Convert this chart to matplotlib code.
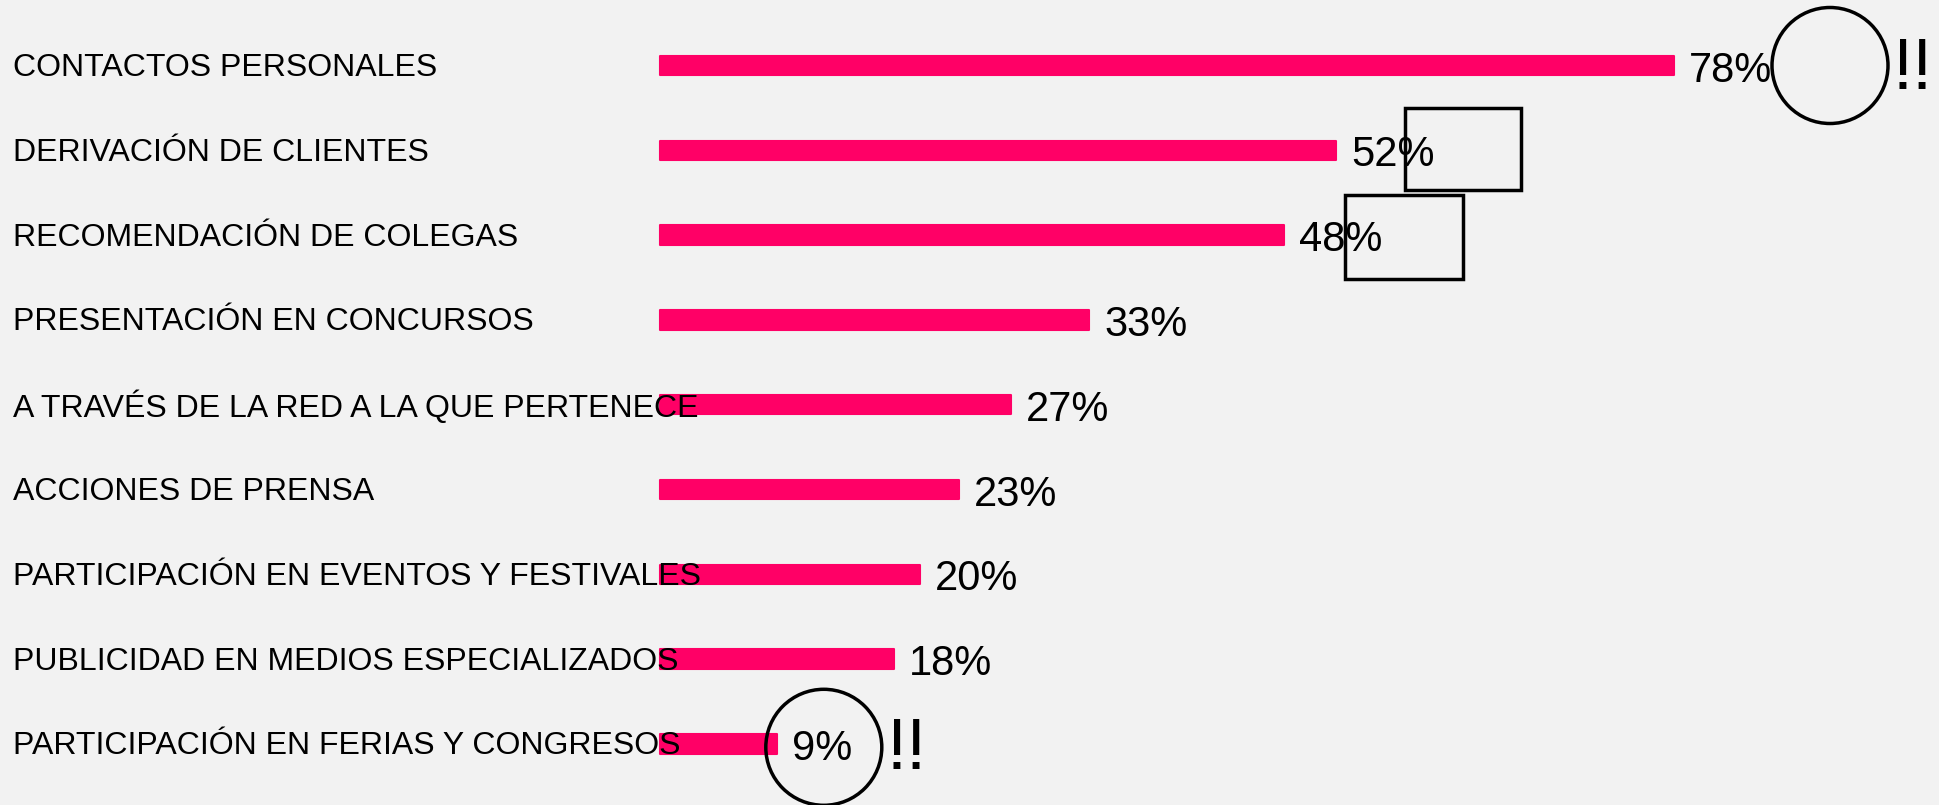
import matplotlib
matplotlib.use("Agg")
import matplotlib.pyplot as plt
from matplotlib.patches import Ellipse, Rectangle

categories = [
    "CONTACTOS PERSONALES",
    "DERIVACIÓN DE CLIENTES",
    "RECOMENDACIÓN DE COLEGAS",
    "PRESENTACIÓN EN CONCURSOS",
    "A TRAVÉS DE LA RED A LA QUE PERTENECE",
    "ACCIONES DE PRENSA",
    "PARTICIPACIÓN EN EVENTOS Y FESTIVALES",
    "PUBLICIDAD EN MEDIOS ESPECIALIZADOS",
    "PARTICIPACIÓN EN FERIAS Y CONGRESOS",
]
values = [78, 52, 48, 33, 27, 23, 20, 18, 9]
value_labels = ["78%", "52%", "48%", "33%", "27%", "23%", "20%", "18%", "9%"]

BG = "#F2F2F2"
BAR = "#FF0066"
W, H, DPI = 1939, 805, 100
plt.rcParams['font.family'] = ['Liberation Sans', 'DejaVu Sans']

fig = plt.figure(figsize=(W / DPI, H / DPI), dpi=DPI, facecolor=BG)
ax = fig.add_axes([0, 0, 1, 1], facecolor=BG)

px_per_pct = 13.0
x0_px = 660
row_px = 84.8
y0_px = 65.5
ax.set_xlim(-x0_px / px_per_pct, (W - x0_px) / px_per_pct)
ax.set_ylim((H - y0_px) / row_px, -y0_px / row_px)
ax.axis("off")

ypos = list(range(len(categories)))
ax.barh(ypos, values, height=0.23, color=BAR, edgecolor=BAR, linewidth=1.5,
        joinstyle="round", left=0)

label_x = (13 - x0_px) / px_per_pct
for y, cat in zip(ypos, categories):
    ax.text(label_x, y + 0.03, cat, fontsize=23, va="center", ha="left", color="black")

for y, v, lab in zip(ypos, values, value_labels):
    ax.text(v + 15 / px_per_pct, y + 0.06, lab, fontsize=30, va="center", ha="left", color="black")

# annotations
ax.add_patch(Ellipse((90.0, 0), 116 / px_per_pct, 116 / row_px, fill=False, lw=2.5, ec="black"))
ax.text(94.8, 0.06, "!!", fontsize=52, va="center", ha="left", color="black")
ax.add_patch(Ellipse((12.6, 8.04), 116 / px_per_pct, 116 / row_px, fill=False, lw=2.5, ec="black"))
ax.text(17.4, 8.08, "!!", fontsize=52, va="center", ha="left", color="black")
ax.add_patch(Rectangle((57.3, 0.50), 8.9, 0.97, fill=False, lw=2.5, ec="black"))
ax.add_patch(Rectangle((52.7, 1.53), 9.1, 0.99, fill=False, lw=2.5, ec="black"))

fig.savefig("out.png", dpi=DPI, facecolor=BG)
